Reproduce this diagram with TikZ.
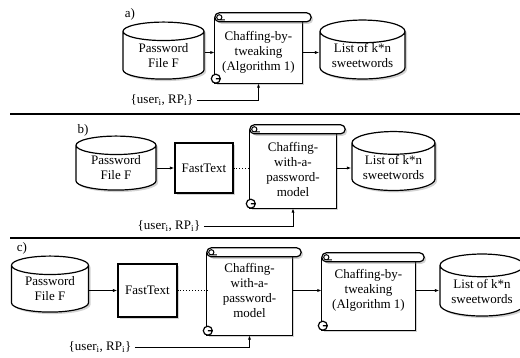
\documentclass[tikz,border=0pt]{standalone}
\usepackage{fontspec}
\setmainfont{Liberation Serif}
\usetikzlibrary{shapes.geometric,shadows,arrows.meta,backgrounds,calc}

\tikzset{
  every node/.style={font=\fontsize{13}{15}\selectfont},
  softshadow/.style={drop shadow={shadow xshift=2pt,shadow yshift=-2pt,opacity=.35}},
  store/.style={cylinder, shape border rotate=90, aspect=.37, draw, line width=1.2pt,
    fill=white, softshadow, align=center, inner sep=0pt},
  proc/.style={rectangle, draw, line width=1.1pt, fill=white, softshadow},
  scroll/.style={rectangle, align=center, inner sep=0pt},
  scrolledge/.style={line width=1.2pt, fill=white},
  arr/.style={line width=.9pt, -{Latex[length=4.5pt,width=3.2pt]}},
  link/.style={line width=.9pt, dotted},
  rule/.style={line width=1.4pt},
}

% scroll outline round a node: #1 node, #2 extra depth below it
\newcommand\scrollframe[2]{%
  \path (#1.south west) ++(0,-#2) coordinate (#1-sw) (#1.north east) coordinate (#1-ne);
  \begin{pgfonlayer}{background}
  \draw[scrolledge,softshadow] let \p1=(#1-sw), \p2=(#1-ne) in
    (\x1,\y2+4) -- (\x1,\y1) -- (\x2,\y1) -- (\x2,\y2+4);
  \draw[scrolledge,softshadow,rounded corners=4.5pt] let \p1=(#1-sw), \p2=(#1-ne) in
    (\x1,\y2) rectangle (\x2+9,\y2+9);
  \draw[line width=1pt] let \p2=(#1-ne), \p1=(#1-sw) in
    (\x1+4.5,\y2+4.5) circle (2.6pt) (\x1+4.5,\y2+1.9) -- (\x1+10,\y2+1.9);
  \draw[scrolledge] let \p1=(#1-sw) in
    (\x1+1,\y1+4.5) circle (4.5pt) (\x1+1,\y1+4.5) -- (\x1+5.5,\y1+4.5);
  \end{pgfonlayer}
}

\begin{document}
\begin{tikzpicture}[x=1pt,y=1pt]
\useasboundingbox (0,0) rectangle (520,-358);

% a)
\node (labA) at (130,-14) {a)};
\node[store, minimum width=81pt, minimum height=57pt] (pwA) at (163.5,-55.5) {Password\\File F};
\node[scroll, minimum width=87pt, minimum height=61pt] (chA) at (258.5,-52.5) {Chaffing-by-\\tweaking\\(Algorithm 1)};
\scrollframe{chA}{0}
\node[store, minimum width=85pt, minimum height=57pt] (lsA) at (362.5,-55.5) {List of k*n\\sweetwords};
\node (usA) at (162,-100) {\{user\textsubscript{i}, RP\textsubscript{i}\}};
\draw[arr] (pwA.east |- chA.west) -- (chA.west);
\draw[arr] (chA.east) -- (chA.east -| lsA.west);
\draw[arr] (usA.east) -| (chA.south |- chA-sw);
\draw[rule] (10,-114) -- (520,-114);

% b)
\node (labB) at (83,-130) {b)};
\node[store, minimum width=80pt, minimum height=54pt] (pwB) at (116,-168) {Password\\File F};
\node[proc, minimum width=58pt, minimum height=50pt] (ftB) at (204,-168) {FastText};
\node[scroll, minimum width=86pt, minimum height=71pt] (chB) at (293,-169.5) {Chaffing-\\with-a-\\password-\\model};
\scrollframe{chB}{3}
\node[store, minimum width=83pt, minimum height=54pt] (lsB) at (393.5,-167) {List of k*n\\sweetwords};
\node (usB) at (169,-226) {\{user\textsubscript{i}, RP\textsubscript{i}\}};
\draw[arr] (pwB.east |- ftB.west) -- (ftB.west);
\draw[link] (ftB.east) -- (ftB.east -| chB.west);
\draw[arr] (chB.east |- ftB.east) -- (ftB.east -| lsB.west);
\draw[arr] (usB.east) -| (chB.south |- chB-sw);
\draw[rule] (10,-238) -- (520,-238);

% c)
\node (labC) at (22,-248) {c)};
\node[store, minimum width=77pt, minimum height=56pt] (pwC) at (50,-289) {Password\\File F};
\node[proc, minimum width=59pt, minimum height=53pt] (ftC) at (147.5,-290.5) {FastText};
\node[scroll, minimum width=85pt, minimum height=66pt] (chC) at (249.5,-290) {Chaffing-\\with-a-\\password-\\model};
\scrollframe{chC}{12}
\node[scroll, minimum width=93pt, minimum height=56pt] (twC) at (368.5,-290) {Chaffing-by-\\tweaking\\(Algorithm 1)};
\scrollframe{twC}{12}
\node[store, minimum width=84pt, minimum height=62pt] (lsC) at (482,-291) {List of k*n\\sweetwords};
\node (usC) at (100,-347) {\{user\textsubscript{i}, RP\textsubscript{i}\}};
\draw[arr] (pwC.east |- ftC.west) -- (ftC.west);
\draw[link] (ftC.east) -- (ftC.east -| chC.west);
\draw[arr] (chC.east |- ftC.east) -- (ftC.east -| twC.west);
\draw[arr] (twC.east |- ftC.east) -- (ftC.east -| lsC.west);
\draw[arr] (usC.east) -| (chC.south |- chC-sw);
\end{tikzpicture}
\end{document}
